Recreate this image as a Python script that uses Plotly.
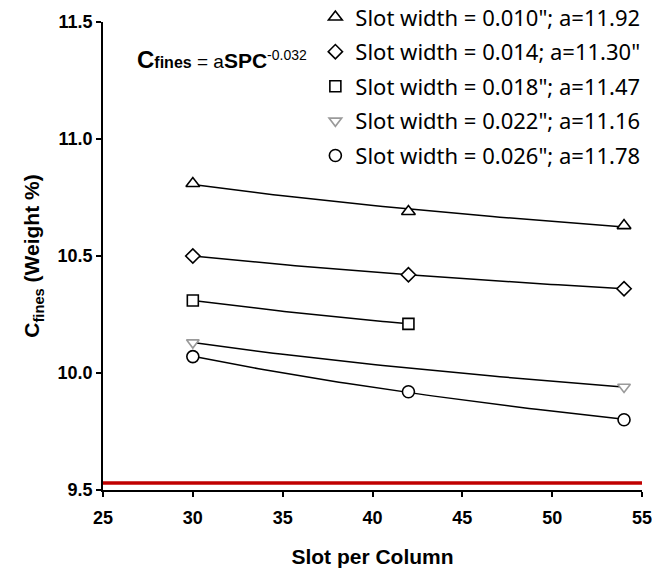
import numpy as np
import plotly.graph_objects as go

# ---- data ----
x_spc = [30, 42, 54]
c_010 = [10.81, 10.69, 10.63]
c_014 = [10.50, 10.42, 10.36]
x_018 = [30, 42]
c_018 = [10.31, 10.21]
x_022 = [30, 54]
c_022 = [10.13, 9.94]
c_026 = [10.07, 9.92, 9.80]

names = ['Slot width = 0.010"; a=11.92',
         'Slot width = 0.014; a=11.30"',
         'Slot width = 0.018"; a=11.47',
         'Slot width = 0.022"; a=11.16',
         'Slot width = 0.026"; a=11.78']

x_ticks = [25, 30, 35, 40, 45, 50, 55]
y_ticks = [9.5, 10.0, 10.5, 11.0, 11.5]
x_ticklabels = ['25', '30', '35', '40', '45', '50', '55']
y_ticklabels = ['9.5', '10.0', '10.5', '11.0', '11.5']

baseline_x = [25, 55]
baseline_y = [9.53, 9.53]

series = [
    (x_spc, c_010, 'triangle-up', 12, 'black'),
    (x_spc, c_014, 'diamond', 11, 'black'),
    (x_018, c_018, 'square', 11, 'black'),
    (x_022, c_022, 'triangle-down', 11, '#9a9a9a'),
    (x_spc, c_026, 'circle', 12, 'black'),
]

fig = go.Figure()

# red baseline
fig.add_trace(go.Scatter(x=baseline_x, y=baseline_y, mode='lines',
                         line=dict(color='#C00000', width=3.5),
                         showlegend=False, hoverinfo='skip'))

# power-law trendlines fitted to each series
for xs, ys, sym, sz, col in series:
    lx, ly = np.log(xs), np.log(ys)
    b, lna = np.polyfit(lx, ly, 1)
    xf = np.linspace(min(xs), max(xs), 60)
    yf = np.exp(lna) * xf ** b
    fig.add_trace(go.Scatter(x=xf, y=yf, mode='lines',
                             line=dict(color='black', width=1.5),
                             showlegend=False, hoverinfo='skip'))

# markers
for i, (xs, ys, sym, sz, col) in enumerate(series):
    fig.add_trace(go.Scatter(x=xs, y=ys, mode='markers', name=names[i],
                             legendgroup='g%d' % i,
                             marker=dict(symbol=sym, size=sz, color='white',
                                         line=dict(color=col, width=1.6))))

tick_font = dict(family='Liberation Sans', size=18, color='black', weight=700)
title_font = dict(family='Liberation Sans', size=21, color='black', weight=700)

fig.update_layout(
    width=652, height=569,
    margin=dict(l=103, r=10, t=22, b=79, autoexpand=False),
    plot_bgcolor='white', paper_bgcolor='white',
    showlegend=True,
    legend=dict(x=0.394, y=1.055, xanchor='left', yanchor='top',
                font=dict(family='Noto Sans, Open Sans', size=22, color='black'),
                tracegroupgap=3, itemwidth=30, bgcolor='rgba(0,0,0,0)'),
    xaxis=dict(range=[25, 55], tickmode='array', tickvals=x_ticks,
               ticktext=['<b>%s</b>' % t for t in x_ticklabels],
               showgrid=False, zeroline=False, automargin=False,
               ticklabeloverflow='allow',
               showline=True, linecolor='black', linewidth=1.5,
               ticks='outside', ticklen=5, tickwidth=1.5, tickcolor='black',
               ticklabelstandoff=6,
               tickfont=tick_font,
               title=dict(text='Slot per Column', font=title_font, standoff=22)),
    yaxis=dict(range=[9.5, 11.5], tickmode='array', tickvals=y_ticks,
               ticktext=['<b>%s</b>' % t for t in y_ticklabels],
               showgrid=False, zeroline=False, automargin=False,
               ticklabeloverflow='allow',
               showline=True, linecolor='black', linewidth=1.5,
               ticks='outside', ticklen=5, tickwidth=1.5, tickcolor='black',
               tickfont=tick_font,
               title=dict(text='C<sub>fines</sub> (Weight %)', font=title_font,
                          standoff=12)),
)

fig.add_annotation(xref='paper', yref='paper', x=0.06, y=0.919,
                   xanchor='left', yanchor='middle', showarrow=False,
                   text=("<b><span style='font-size:24px'>C</span>"
                         "<span style='font-size:16px'>fines</span></b> = a"
                         "<b><span style='font-size:21px'>SPC</span></b>"
                         "<sup><span style='font-size:14px'>-0.032</span></sup>"),
                   font=dict(family='Liberation Sans', size=19, color='black'))

fig.write_html("out.html")
